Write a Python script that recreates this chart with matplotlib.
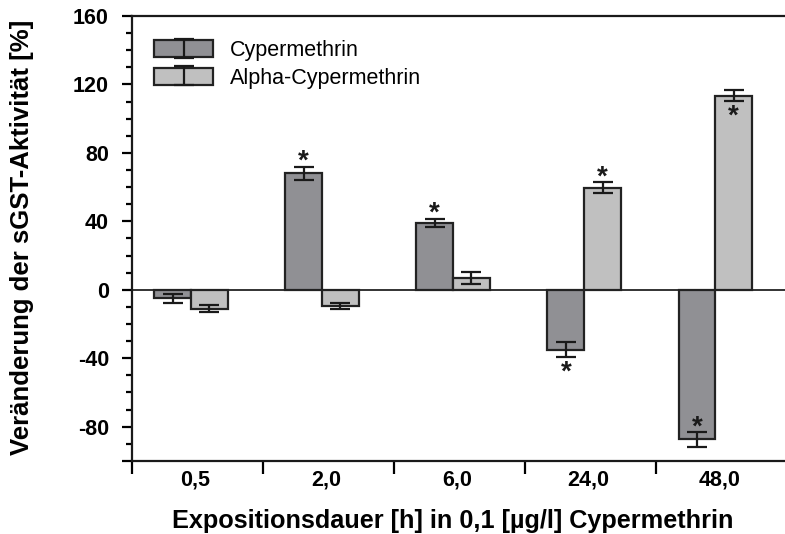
import matplotlib.pyplot as plt
import numpy as np
from matplotlib.legend_handler import HandlerTuple, HandlerErrorbar
from matplotlib.container import ErrorbarContainer

plt.rcParams['font.family'] = ['Liberation Sans', 'DejaVu Sans']

# Daten
zeiten = ['0,5', '2,0', '6,0', '24,0', '48,0']
cyp = [-5, 68, 39, -35, -87.5]
cyp_err = [2.5, 4, 2.5, 4.3, 4.2]
alpha = [-11, -9.5, 7, 59.5, 113.5]
alpha_err = [2, 2, 3.5, 3.2, 3.2]
# Signifikanz: 1 = Stern ausserhalb, -1 = Stern innerhalb des Balkens, 0 = keiner
cyp_stern = [0, 1, 1, 1, -1]
alpha_stern = [0, 0, 0, 1, -1]

fig = plt.figure(figsize=(7.85, 5.34), dpi=100)
ax = fig.add_axes([0.168, 0.137, 0.835, 0.833])

x = np.arange(len(zeiten))
w = 0.28
off = -0.05
kw = dict(edgecolor='#222222', linewidth=1.6, zorder=2)
b1 = ax.bar(x + off - w / 2, cyp, w, color='#909094', **kw)
b2 = ax.bar(x + off + w / 2, alpha, w, color='#c0c0c0', **kw)
ekw = dict(fmt='none', ecolor='#1a1a1a', elinewidth=1.6, capsize=7.5, capthick=1.6, zorder=3)
e1 = ax.errorbar(x + off - w / 2, cyp, yerr=cyp_err, **ekw)
e2 = ax.errorbar(x + off + w / 2, alpha, yerr=alpha_err, **ekw)

ax.axhline(0, color='#333333', linewidth=1.4, zorder=1)

# Sterne
for xs, vals, errs, st in [(x + off - w / 2, cyp, cyp_err, cyp_stern),
                           (x + off + w / 2, alpha, alpha_err, alpha_stern)]:
    for xi, v, e, s in zip(xs, vals, errs, st):
        if s == 0:
            continue
        y = v + np.sign(v) * s * (e + 6)
        ax.text(xi, y - 3, '*', ha='center', va='center', fontsize=20,
                fontweight='bold', color='#1a1a1a', zorder=4)

ax.set_ylim(-100, 160)
ax.set_xlim(-0.5, 4.5)
yt = [-100] + list(range(-80, 161, 40))
ax.set_yticks(yt)
ax.set_yticklabels([''] + [str(v) for v in yt[1:]], fontsize=15.5, fontweight='bold')
ax.set_yticks(range(-100, 161, 10), minor=True)
ax.tick_params(axis='y', which='major', direction='out', length=7.5, width=1.6, pad=9)
ax.tick_params(axis='y', which='minor', direction='out', length=4.5, width=1.6)

ax.set_xticks(np.arange(-0.5, 4.6, 1))
ax.set_xticklabels([])
ax.tick_params(axis='x', which='major', direction='out', length=9, width=1.6)
for xi, lab in zip(x, zeiten):
    ax.text(xi - 0.02, -0.042, lab, transform=ax.get_xaxis_transform(),
            ha='center', va='center', fontsize=15.5, fontweight='bold')

for s in ['left', 'bottom', 'top']:
    ax.spines[s].set_linewidth(1.6)
    ax.spines[s].set_color('#1a1a1a')
ax.spines['right'].set_visible(False)

fig.text(0.028, 0.555, 'Veränderung der sGST-Aktivität [%]', rotation=90,
         ha='center', va='center', fontsize=18.5, fontweight='bold')
fig.text(0.577, 0.025, 'Expositionsdauer [h] in 0,1 [µg/l] Cypermethrin',
         ha='center', va='center', fontsize=18.2, fontweight='bold')

leg = ax.legend([(b1[0], e1), (b2[0], e2)], ['Cypermethrin', 'Alpha-Cypermethrin'],
                handler_map={tuple: HandlerTuple(ndivide=1),
                             ErrorbarContainer: HandlerErrorbar(yerr_size=0.44)},
                loc='upper left', bbox_to_anchor=(0.034, 0.946), frameon=False,
                fontsize=15.5, handlelength=2.74, handleheight=0.84, labelspacing=0.32,
                handletextpad=0.8, borderpad=0, borderaxespad=0)

plt.savefig('out.png', dpi=100)
